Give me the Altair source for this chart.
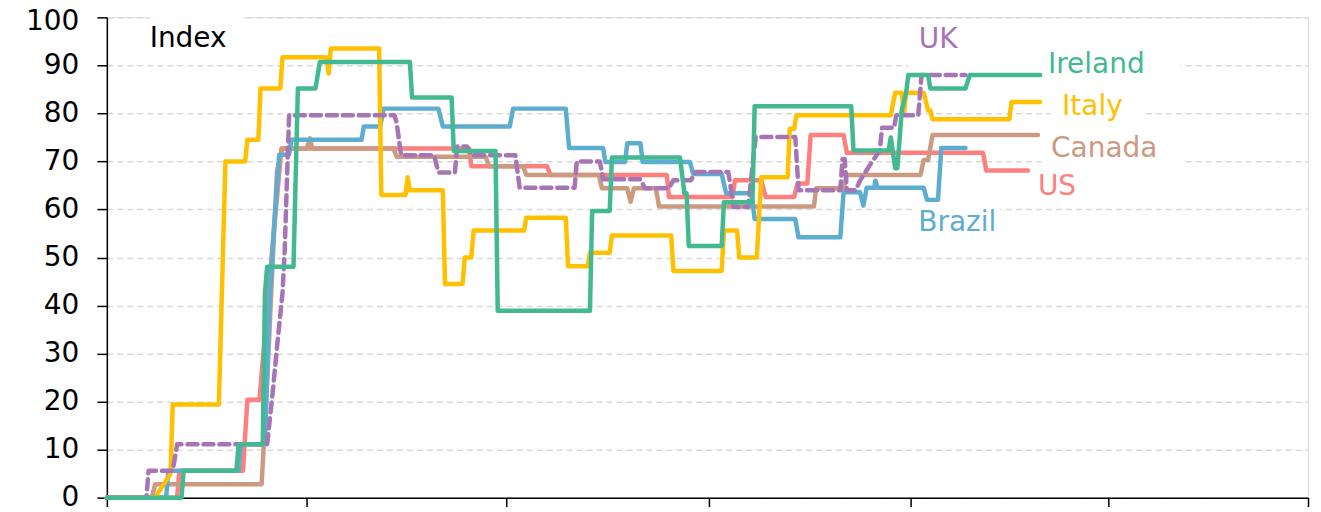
import altair as alt
import pandas as pd

# x = days since 2020-01-01, y = index value
italy_days = [0,22,29,30,51,52,54,63,64,69,70,79,80,100,101,102,124,125,136,137,138,153,154,162,163,166,167,190,191,209,210,219,220,229,230,257,258,280,281,287,288,296,298,310,311,313,314,357,359,362,363,364,372,374,375,376,411,412,425]
italy_vals = [0,0,5,19.4,19.4,36,70,70,74.5,74.5,85.2,85.2,91.7,91.7,88.3,93.5,93.5,63,63,66.7,64,64,44.5,44.5,50,50,55.6,55.6,58.3,58.3,48.2,48.2,51,51,54.6,54.6,47.2,47.2,55.6,55.6,50,50,66.7,66.7,76.8,76.8,79.6,79.6,84.3,84.3,80,84.3,84.3,80.6,80.6,78.8,78.8,82.4,82.4]

ireland_days = [0,34,35,59,60,71,72,73,85,87,95,97,138,139,157,158,177,178,220,221,229,230,261,263,264,265,280,281,294,295,339,340,356,357,359,360,362,364,365,374,375,391,393,425]
ireland_vals = [0,0,5.6,5.6,11.1,11.1,42.6,48.1,48.1,85.2,85.2,90.7,90.7,83.3,83.3,72.2,72.2,38.9,38.9,59.7,59.7,70.8,70.8,63.4,63.4,52.4,52.4,61.5,61.5,81.5,81.5,72.3,72.3,75,68.6,68.6,80.7,84.4,88,88,85.2,85.2,88,88]

uk_days = [0,18,19,30,32,73,75.5,77.5,80,81,82,83,131,132,134,149,151,158.5,159.5,164,166,186,188,213,214,224.5,226,243,245,256,258,266,268,283,285.5,292,295.5,313.5,315,334,335,336,337,341,343,348,352,353,358.5,359.5,369.5,371,391]
uk_vals = [0,0,5.6,5.6,11.1,11.1,21.8,31.4,42.6,51.6,66,79.6,79.6,78,71.3,71.3,67.7,67.7,73.1,73.1,71.3,71.3,64.5,64.5,70,70,66.3,66.3,64.4,64.4,66.1,66.1,67.8,67.8,60.5,60.5,75.1,75.1,64,64,70.5,70.5,64,64,66,69.6,72.3,77,77,79.6,79.6,88,88]

brazil_days = [0,27,28,60,61,72,74,76,78.5,83,84,116,117,124.5,126,151,153,183.5,185,209,210.5,226,227,236,237,243,244,265.5,267,280,282,293.5,295,313.5,315,334,335.5,343,344.5,346,349.5,350,351,372,373.5,378.5,380,391]
brazil_vals = [0,0,5.6,5.6,11.1,11.1,40,55.7,71.4,71.4,74.5,74.5,77.3,77.3,81,81,77.3,77.3,81,81,72.8,72.8,69.9,69.9,73.8,73.8,69.9,69.9,67.4,67.4,63.4,63.4,58,58,54.2,54.2,63.6,63.6,60.8,64.5,64.5,66,64.5,64.5,62,62,72.8,72.8]

us_days = [0,32,33,62,64,69.5,74,77,79.5,165,166,200.5,202,255,256,285,286,298,300,313,314.5,319,320.5,335.5,337,399,400.5,419.5]
us_vals = [0,0,5.6,5.6,20.4,20.4,45,60,72.7,72.7,69,69,67.2,67.2,62.6,62.6,66.1,66.1,62.6,62.6,65.4,65.4,75.5,75.5,71.8,71.8,68.1,68.1]

canada_days = [0,20.5,22,70.5,73,75,77.5,79,80,91,92.5,93.5,130.5,132,172.5,174,189.5,191,224,225.5,237,238.5,240,250,251.5,322,323,335.5,337,370.5,372,374,376,424]
canada_vals = [0,0,2.8,2.8,24,44,68,71,72.7,72.7,74.8,72.7,72.7,71,71,69,69,67.2,67.2,64.4,64.4,61.6,64.4,64.4,60.6,60.6,64.4,64.4,67.2,67.2,70.3,70.3,75.5,75.5]

# drawing order bottom -> top
series = [
    ("US", us_days, us_vals, "#FF7F7F", None),
    ("Canada", canada_days, canada_vals, "#CC9A80", None),
    ("Brazil", brazil_days, brazil_vals, "#5DADD0", None),
    ("Italy", italy_days, italy_vals, "#FFC000", None),
    ("UK", uk_days, uk_vals, "#A775B5", [10, 6]),
    ("Ireland", ireland_days, ireland_vals, "#43B991", None),
]

# quarter starts: Jan-20, Apr-20, Jul-20, Oct-20, Jan-21, Apr-21, Jul-21
x_ticks = [0, 91, 182, 274, 366, 456, 547]
y_ticks = list(range(0, 101, 10))

FONT = "DejaVu Sans"
FS = 28

x_scale = alt.Scale(domain=[0, 547], nice=False, zero=False)
y_scale = alt.Scale(domain=[0, 100], nice=False)

x_axis = alt.Axis(values=x_ticks, labels=False, grid=False, title=None,
                  domainColor="black", domainWidth=1.5, tickColor="black",
                  tickWidth=1.5, tickSize=9)
y_axis = alt.Axis(values=y_ticks, grid=True, gridDash=[6, 4], gridColor="#D9D9D9",
                  gridWidth=1.5, title=None, domainColor="black", domainWidth=1.5,
                  tickColor="black", tickWidth=1.5, tickSize=10,
                  labelFont=FONT, labelFontSize=FS, labelColor="black", labelPadding=18,
                  labelOffset=alt.ExprRef("datum.value == 100 ? 4 : 0"))

# white boxes behind the text labels (they interrupt the gridlines)
box_x1 = [19.5, 365, 430, 426, 367]
box_x2 = [62, 489, 473, 491, 407]
box_y1 = [92, 88.8, 77, 67.5, 55]
box_y2 = [100.6, 92.5, 85, 76.5, 61.5]
boxes = pd.DataFrame({"x1": box_x1, "x2": box_x2, "y1": box_y1, "y2": box_y2})

base_rect = alt.Chart(boxes).mark_rect(color="white").encode(
    x=alt.X("x1:Q", scale=x_scale, axis=x_axis),
    x2="x2:Q",
    y=alt.Y("y1:Q", scale=y_scale, axis=y_axis),
    y2="y2:Q",
)

layers = [base_rect]
for name, d, v, col, dash in series:
    df = pd.DataFrame({"day": d, "value": v, "i": range(len(d))})
    kw = dict(color=col, strokeWidth=4.5, strokeCap="round", strokeJoin="round")
    if dash:
        kw["strokeDash"] = dash
    layers.append(
        alt.Chart(df).mark_line(**kw).encode(
            x=alt.X("day:Q", scale=x_scale, axis=x_axis),
            y=alt.Y("value:Q", scale=y_scale, axis=y_axis),
            order="i:Q",
        )
    )

label_text = ["Index", "Ireland", "Italy", "Canada", "US", "Brazil"]
label_day = [19.5, 428.6, 435, 430, 424, 369.5]
label_val = [95.4, 90, 81.3, 72.6, 64.7, 57.2]
label_col = ["black", "#43B991", "#FFC000", "#CC9A80", "#FF7F7F", "#5DADD0"]
labels = pd.DataFrame({"t": label_text, "d": label_day, "v": label_val, "c": label_col})

uk_label = pd.DataFrame({"t": ["UK"], "d": [378.6], "v": [95.2], "c": ["#A775B5"]})

layers.append(
    alt.Chart(labels).mark_text(align="left", baseline="middle", font=FONT, fontSize=FS).encode(
        x=alt.X("d:Q", scale=x_scale), y=alt.Y("v:Q", scale=y_scale),
        text="t:N", color=alt.Color("c:N", scale=None),
    )
)
layers.append(
    alt.Chart(uk_label).mark_text(align="center", baseline="middle", font=FONT, fontSize=FS).encode(
        x=alt.X("d:Q", scale=x_scale), y=alt.Y("v:Q", scale=y_scale),
        text="t:N", color=alt.Color("c:N", scale=None),
    )
)

chart = alt.layer(*layers).properties(
    width=1203, height=481,
    padding={"left": 99, "top": 9, "right": 5, "bottom": 14},
    autosize=alt.AutoSizeParams(type="none"),
).configure_view(strokeWidth=0).configure(background="white")

chart.save("out.html", embed_options={"renderer": "svg", "actions": False})
